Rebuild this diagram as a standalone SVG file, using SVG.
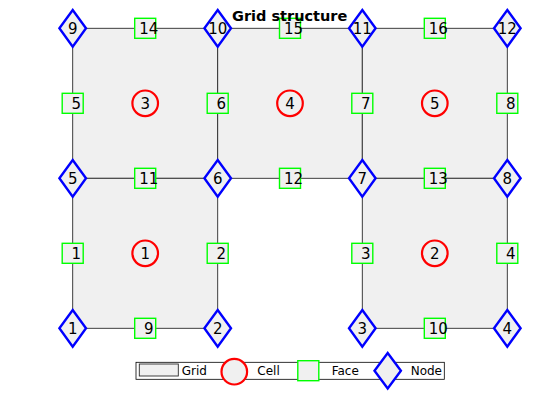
<svg xmlns="http://www.w3.org/2000/svg" width="560" height="420" viewBox="0 0 560 420">
<style>
.grid{fill:#f0f0f0;stroke:#2a2a2a;stroke-width:0.9}
.face{fill:#f0f0f0;stroke:#00ff00;stroke-width:1.4}
.cell{fill:#f0f0f0;stroke:#ff0000;stroke-width:2.2}
.node{fill:#f0f0f0;stroke:#0000ff;stroke-width:2.4}
text{font-family:"DejaVu Sans",sans-serif;font-size:15px;fill:#000;text-anchor:middle}
.title{font-weight:bold;font-size:14.5px}
.lg{font-size:12px;text-anchor:start}
</style>
<defs>
<rect id="fq" x="-10.5" y="-10" width="21" height="20" class="face"/>
<circle id="cc" r="12.8" class="cell"/>
<polygon id="nd" points="0,-18.3 13.3,0 0,18.3 -13.3,0" class="node"/>
</defs>
<rect width="560" height="420" fill="#fff"/>
<g id="grid">
<rect class="grid" x="72.7" y="28.3" width="145" height="150"/>
<rect class="grid" x="217.7" y="28.3" width="144.6" height="150"/>
<rect class="grid" x="362.3" y="28.3" width="145" height="150"/>
<rect class="grid" x="72.7" y="178.3" width="145" height="150"/>
<rect class="grid" x="362.3" y="178.3" width="145" height="150"/>
</g>
<g id="faces">
<g id="face1"><use href="#fq" x="72.7" y="253.3"/><text x="76.2" y="259.1">1</text></g>
<g id="face2"><use href="#fq" x="217.7" y="253.3"/><text x="221.2" y="259.1">2</text></g>
<g id="face3"><use href="#fq" x="362.3" y="253.3"/><text x="365.8" y="259.1">3</text></g>
<g id="face4"><use href="#fq" x="507.3" y="253.3"/><text x="510.8" y="259.1">4</text></g>
<g id="face5"><use href="#fq" x="72.7" y="103.3"/><text x="76.2" y="109.1">5</text></g>
<g id="face6"><use href="#fq" x="217.7" y="103.3"/><text x="221.2" y="109.1">6</text></g>
<g id="face7"><use href="#fq" x="362.3" y="103.3"/><text x="365.8" y="109.1">7</text></g>
<g id="face8"><use href="#fq" x="507.3" y="103.3"/><text x="510.8" y="109.1">8</text></g>
<g id="face9"><use href="#fq" x="145.2" y="328.3"/><text x="148.7" y="334.1">9</text></g>
<g id="face10"><use href="#fq" x="434.8" y="328.3"/><text x="438.3" y="334.1">10</text></g>
<g id="face11"><use href="#fq" x="145.2" y="178.3"/><text x="148.7" y="184.1">11</text></g>
<g id="face12"><use href="#fq" x="290" y="178.3"/><text x="293.5" y="184.1">12</text></g>
<g id="face13"><use href="#fq" x="434.8" y="178.3"/><text x="438.3" y="184.1">13</text></g>
<g id="face14"><use href="#fq" x="145.2" y="28.3"/><text x="148.7" y="34.1">14</text></g>
<g id="face15"><use href="#fq" x="290" y="28.3"/><text x="293.5" y="34.1">15</text></g>
<g id="face16"><use href="#fq" x="434.8" y="28.3"/><text x="438.3" y="34.1">16</text></g>
</g>
<g id="cells">
<g id="cell1"><use href="#cc" x="145.2" y="253.3"/><text x="145.2" y="259.1">1</text></g>
<g id="cell2"><use href="#cc" x="434.8" y="253.3"/><text x="434.8" y="259.1">2</text></g>
<g id="cell3"><use href="#cc" x="145.2" y="103.3"/><text x="145.2" y="109.1">3</text></g>
<g id="cell4"><use href="#cc" x="290" y="103.3"/><text x="290" y="109.1">4</text></g>
<g id="cell5"><use href="#cc" x="434.8" y="103.3"/><text x="434.8" y="109.1">5</text></g>
</g>
<g id="nodes">
<g id="node1"><use href="#nd" x="72.7" y="328.3"/><text x="72.7" y="334.1">1</text></g>
<g id="node2"><use href="#nd" x="217.7" y="328.3"/><text x="217.7" y="334.1">2</text></g>
<g id="node3"><use href="#nd" x="362.3" y="328.3"/><text x="362.3" y="334.1">3</text></g>
<g id="node4"><use href="#nd" x="507.3" y="328.3"/><text x="507.3" y="334.1">4</text></g>
<g id="node5"><use href="#nd" x="72.7" y="178.3"/><text x="72.7" y="184.1">5</text></g>
<g id="node6"><use href="#nd" x="217.7" y="178.3"/><text x="217.7" y="184.1">6</text></g>
<g id="node7"><use href="#nd" x="362.3" y="178.3"/><text x="362.3" y="184.1">7</text></g>
<g id="node8"><use href="#nd" x="507.3" y="178.3"/><text x="507.3" y="184.1">8</text></g>
<g id="node9"><use href="#nd" x="72.7" y="28.3"/><text x="72.7" y="34.1">9</text></g>
<g id="node10"><use href="#nd" x="217.7" y="28.3"/><text x="217.7" y="34.1">10</text></g>
<g id="node11"><use href="#nd" x="362.3" y="28.3"/><text x="362.3" y="34.1">11</text></g>
<g id="node12"><use href="#nd" x="507.3" y="28.3"/><text x="507.3" y="34.1">12</text></g>
</g>
<g id="connectors"/>
<text class="title" x="289.7" y="20.7">Grid structure</text>
<g id="legend">
<rect x="136" y="362.3" width="308.3" height="17" fill="#fff" stroke="#000" stroke-width="0.8"/>
<rect x="139.3" y="364" width="39" height="12" class="grid" stroke="#000"/>
<text class="lg" x="181.7" y="375">Grid</text>
<use href="#cc" x="234.3" y="371.7"/>
<text class="lg" x="257.3" y="375">Cell</text>
<use href="#fq" x="308.3" y="370.7"/>
<text class="lg" x="331.7" y="375">Face</text>
<polygon points="387.7,353 400.9,370.7 387.7,388.4 374.5,370.7" class="node"/>
<text class="lg" x="410.7" y="375">Node</text>
</g>
</svg>
